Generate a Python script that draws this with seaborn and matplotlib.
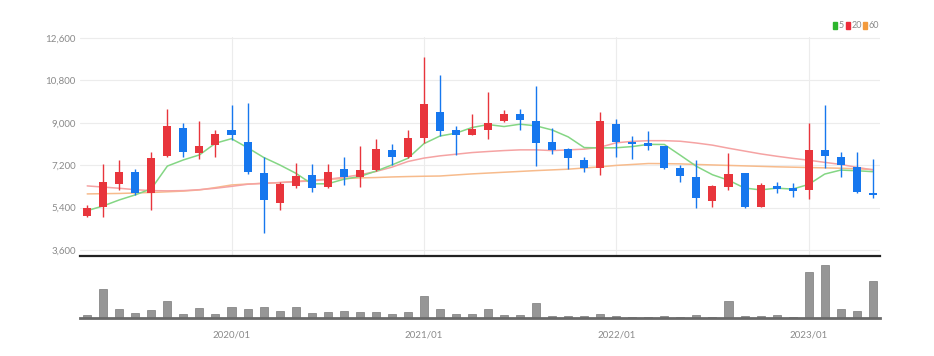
import matplotlib
matplotlib.use("Agg")
import matplotlib.pyplot as plt
from matplotlib.patches import Rectangle
import seaborn as sns
import pandas as pd

# monthly candles 2019/04 - 2023/05
months = [str(p).replace("-", "/") for p in pd.period_range("2019-04", "2023-05", freq="M")]

opens = [5045, 5442, 6406, 6930, 6037, 7596, 8772, 7709, 8035, 8701,
         8163, 6859, 5612, 6335, 6788, 6292, 7043, 6689, 7001, 7851,
         7539, 8347, 9452, 8701, 8488, 8701, 9084, 9367, 9055, 8163,
         7879, 7426, 7100, 8956, 8177, 8134, 7993, 7072, 6689, 5697,
         6264, 6859, 5442, 6335, 6221, 6151, 7823, 7568, 7142, 6037]
highs = [5513, 7256, 7426, 7043, 7752, 9594, 8985, 9084, 8701, 9764,
         9835, 7568, 6505, 7313, 7256, 7256, 7568, 8021, 8319, 8092,
         8701, 11790, 11039, 8871, 9381, 10302, 9523, 9594, 10543, 8772,
         7908, 7568, 9452, 9169, 8446, 8659, 8021, 7213, 7426, 6349,
         7709, 6887, 6434, 6505, 6434, 8985, 9735, 7752, 7780, 7454]
lows = [5017, 5017, 6151, 5938, 5300, 7560, 7539, 7454, 7568, 8276,
        6831, 4309, 5300, 6221, 6080, 6221, 6363, 6292, 6973, 7213,
        7497, 8134, 8446, 7638, 8460, 8304, 9013, 8701, 7185, 7667,
        7043, 6930, 6788, 7568, 7468, 7851, 7043, 6477, 5400, 5442,
        6151, 5371, 5420, 6009, 5867, 5768, 7072, 6689, 6009, 5796]
closes = [5371, 6476, 6930, 6037, 7525, 8843, 7780, 7993, 8517, 8488,
          6930, 5726, 6406, 6760, 6221, 6930, 6689, 7001, 7879, 7539,
          8347, 9792, 8630, 8488, 8729, 8985, 9367, 9126, 8134, 7851,
          7525, 7100, 9055, 8163, 8106, 7993, 7072, 6760, 5825, 6321,
          6831, 5414, 6363, 6193, 6122, 7823, 7610, 7213, 6051, 5924]

ma5 = [5270, 5470, 5725, 5940, 6200, 7162, 7423, 7636, 8132, 8324,
       7942, 7531, 7213, 6862, 6409, 6409, 6601, 6720, 6944, 7208,
       7491, 8112, 8437, 8559, 8797, 8925, 8840, 8939, 8868, 8693,
       8401, 7947, 7933, 7939, 7990, 8083, 8078, 7619, 7151, 6794,
       6562, 6230, 6151, 6224, 6185, 6383, 6822, 6992, 6964, 6924]
ma20 = [6320, 6270, 6220, 6160, 6120, 6110, 6120, 6160, 6220, 6300,
        6390, 6430, 6460, 6500, 6530, 6600, 6690, 6790, 6930, 7115,
        7355, 7500, 7595, 7665, 7735, 7780, 7820, 7850, 7850, 7820,
        7850, 7880, 7965, 8150, 8210, 8240, 8240, 8215, 8140, 8050,
        7920, 7800, 7680, 7580, 7490, 7410, 7320, 7230, 7110, 7000]
ma60 = [5980, 5990, 6000, 6020, 6040, 6070, 6100, 6150, 6250, 6360,
        6400, 6430, 6460, 6510, 6560, 6600, 6630, 6660, 6675, 6700,
        6717, 6730, 6740, 6785, 6830, 6865, 6900, 6935, 6970, 7000,
        7030, 7080, 7130, 7190, 7230, 7270, 7265, 7255, 7230, 7210,
        7190, 7170, 7150, 7130, 7115, 7100, 7085, 7070, 7045, 7015]

volume = [27, 290, 93, 53, 83, 173, 43, 100, 43, 110,
          87, 110, 73, 110, 53, 60, 73, 60, 60, 43,
          60, 217, 87, 40, 40, 87, 30, 30, 150, 23,
          23, 23, 43, 23, 13, 13, 23, 13, 30, 13,
          167, 23, 23, 27, 13, 457, 527, 87, 73, 373]

ma_names = ["5", "20", "60"]

UP = "#e8353c"
DOWN = "#1677ee"
MA_COLORS = {"5": "#84d684", "20": "#f5a3a3", "60": "#f7bb8c"}
LEGEND_COLORS = {"5": "#2db52d", "20": "#ee2b3a", "60": "#f39a3c"}
TXT = "#8a8a8a"

sns.set_theme(style="white")
plt.rcParams["font.family"] = ["Lato", "DejaVu Sans"]

df = pd.DataFrame({"month": months, "open": opens, "high": highs, "low": lows,
                   "close": closes, "ma5": ma5, "ma20": ma20, "ma60": ma60,
                   "volume": volume})
df["idx"] = range(len(df))
df["up"] = df["close"] >= df["open"]

fig = plt.figure(figsize=(9.34, 3.56), dpi=100)
W, H = 934, 356
ax = fig.add_axes([80 / W, 1 - 256 / H, 800 / W, (256 - 37) / H])
axv = fig.add_axes([80 / W, 1 - 318 / H, 800 / W, 60 / H])

year_ticks = [i for i, m in enumerate(months) if m.endswith("/01")]

# price panel
for y in [3600, 5400, 7200, 9000, 10800, 12600]:
    ax.axhline(y, color="#ececec", lw=0.8, zorder=0)
for i in year_ticks:
    ax.axvline(i, color="#ececec", lw=0.8, zorder=0)

for name in ["60", "20", "5"]:
    sns.lineplot(data=df, x="idx", y="ma" + name, ax=ax, color=MA_COLORS[name], lw=1.1, zorder=2)

for _, r in df.iterrows():
    c = UP if r["up"] else DOWN
    ax.vlines(r["idx"], r["low"], r["high"], color=c, lw=1.0, zorder=3)
    lo = min(r["open"], r["close"])
    h = max(abs(r["close"] - r["open"]), 60)
    ax.bar(r["idx"], h, bottom=lo, width=0.5, color=c, zorder=4, linewidth=0)

ax.set_xlim(-0.45, 49.45)
ax.set_ylim(3345, 12640)
yt = [3600, 5400, 7200, 9000, 10800, 12600]
ax.set_yticks(yt)
ax.set_yticklabels([f"{v:,}" for v in yt], fontsize=7, color=TXT)
ax.tick_params(axis="y", length=0, pad=3)
ax.set_xticks([])
ax.set_xlabel("")
ax.set_ylabel("")
for s in ["top", "right", "left"]:
    ax.spines[s].set_visible(False)
ax.spines["bottom"].set_color("#222222")
ax.spines["bottom"].set_linewidth(1.6)

# volume panel
sns.barplot(data=df, x="idx", y="volume", ax=axv, color="#969696", width=0.5,
            saturation=1, edgecolor="#7a7a7a", linewidth=0.5, zorder=2)
axv.set_xlim(-0.45, 49.45)
axv.set_ylim(0, 600)
axv.set_yticks([])
axv.set_xticks(year_ticks)
axv.set_xticklabels([months[i] for i in year_ticks], fontsize=7, color=TXT)
axv.tick_params(axis="x", length=3, width=0.8, color="#555555", pad=6, direction="out")
axv.set_xlabel("")
axv.set_ylabel("")
for s in ["top", "right", "left"]:
    axv.spines[s].set_visible(False)
axv.spines["bottom"].set_color("#6a6a6a")
axv.spines["bottom"].set_linewidth(2)

# legend (top right)
fx = 833
for name in ma_names:
    fig.patches.append(Rectangle((fx / W, 1 - 29 / H), 4 / W, 7 / H,
                                 transform=fig.transFigure, color=LEGEND_COLORS[name]))
    fig.text((fx + 5.5) / W, 1 - 25.5 / H, name, color=TXT, fontsize=6.5,
             va="center", ha="left")
    fx += 5.5 + 4.2 * len(name) + 3

fig.savefig("out.png", dpi=100)
